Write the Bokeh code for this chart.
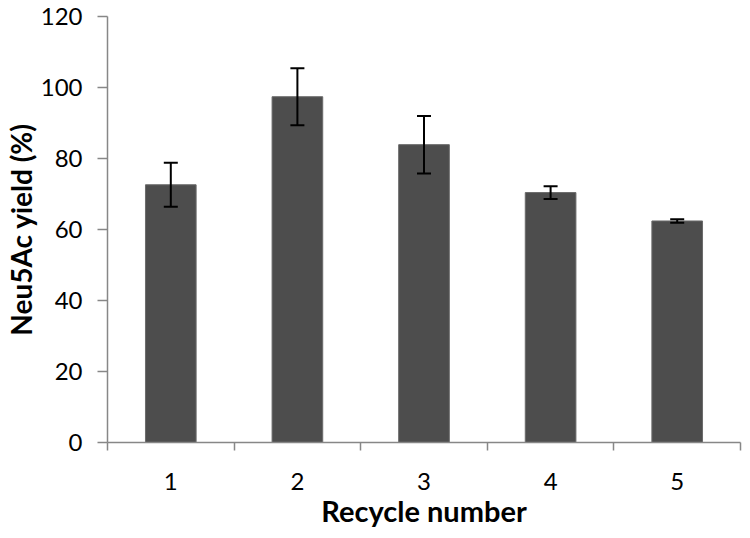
import numpy as np
from bokeh.plotting import figure
from bokeh.models import ColumnDataSource, FixedTicker, Whisker, TeeHead, Range1d
from bokeh.embed import file_html
from bokeh.resources import INLINE

cycles = [1, 2, 3, 4, 5]
tick_labels = ["1", "2", "3", "4", "5"]
yields = [72.6, 97.4, 83.9, 70.4, 62.4]
errors = [6.2, 8.0, 8.1, 1.8, 0.5]

y = np.array(yields)
e = np.array(errors)
src = ColumnDataSource(dict(x=cycles, top=yields, upper=y + e, lower=y - e))

FONT = "Lato"
AXIS_GRAY = "#878787"

p = figure(width=742, height=530, output_backend="svg", toolbar_location=None,
           x_range=Range1d(0.5, 5.5), y_range=Range1d(0, 120),
           min_border_left=102, min_border_right=2, min_border_top=16, min_border_bottom=86)
p.outline_line_color = None
p.xgrid.visible = False
p.ygrid.visible = False

p.vbar(x="x", top="top", width=0.4, bottom=0, source=src,
       fill_color="#4d4d4d", line_color="#6a6a6a", line_width=1)

w = Whisker(base="x", upper="upper", lower="lower", source=src, level="overlay",
            line_color="black", line_width=2,
            upper_head=TeeHead(size=14, line_color="black", line_width=2),
            lower_head=TeeHead(size=14, line_color="black", line_width=2))
p.add_layout(w)

# x axis
xa = p.xaxis[0]
xa.ticker = FixedTicker(ticks=cycles, minor_ticks=[0.5, 1.5, 2.5, 3.5, 4.5, 5.5])
xa.major_label_overrides = {c: l for c, l in zip(cycles, tick_labels)}
xa.major_tick_out = 0
xa.major_tick_in = 0
xa.minor_tick_out = 8
xa.minor_tick_in = 0
xa.minor_tick_line_color = AXIS_GRAY
xa.minor_tick_line_width = 1.5
xa.axis_line_color = AXIS_GRAY
xa.axis_line_width = 1.5
xa.major_label_text_font = FONT
xa.major_label_text_font_size = "24px"
xa.major_label_text_color = "black"
xa.major_label_standoff = 22
xa.axis_label = "Recycle number"
xa.axis_label_text_font = FONT
xa.axis_label_text_font_size = "29px"
xa.axis_label_text_font_style = "bold"
xa.axis_label_text_color = "black"
xa.axis_label_standoff = 0

# y axis
ya = p.yaxis[0]
ya.ticker = FixedTicker(ticks=[0, 20, 40, 60, 80, 100, 120])
ya.minor_tick_line_color = None
ya.major_tick_out = 10
ya.major_tick_in = 0
ya.major_tick_line_color = AXIS_GRAY
ya.major_tick_line_width = 1.5
ya.axis_line_color = AXIS_GRAY
ya.axis_line_width = 1.5
ya.major_label_text_font = FONT
ya.major_label_text_font_size = "24px"
ya.major_label_text_color = "black"
ya.major_label_standoff = 15
ya.axis_label = "Neu5Ac yield (%)"
ya.axis_label_text_font = FONT
ya.axis_label_text_font_size = "28px"
ya.axis_label_text_font_style = "bold"
ya.axis_label_text_color = "black"
ya.axis_label_standoff = 0

open("out.html", "w").write(file_html(p, INLINE))
